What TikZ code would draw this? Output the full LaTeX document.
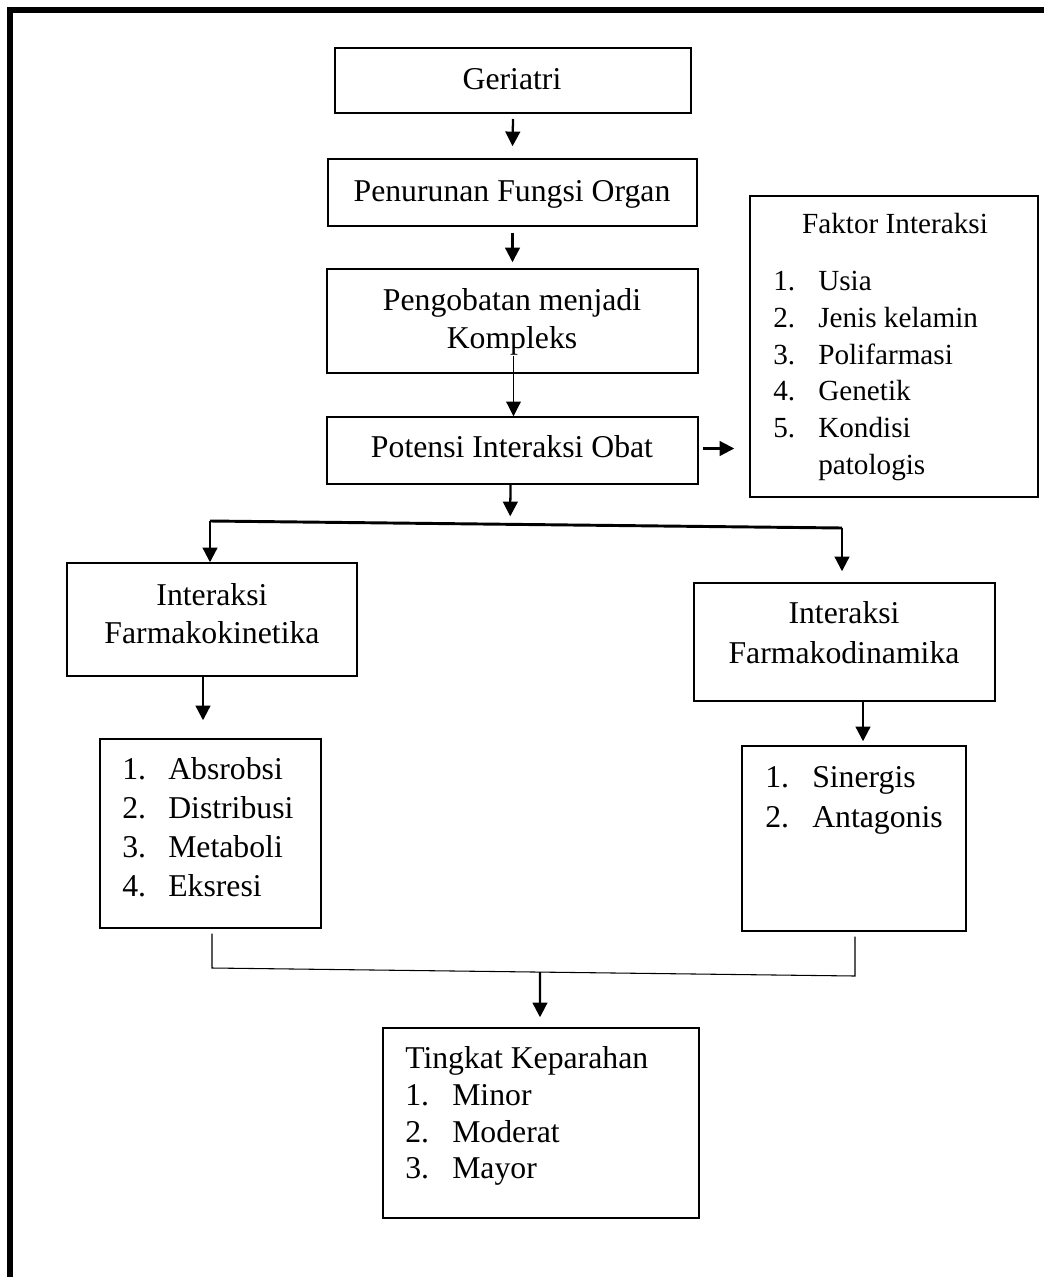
\documentclass[tikz,border=0pt]{standalone}
\usepackage{fontspec}
\setmainfont{Liberation Serif}
\usetikzlibrary{arrows.meta,fit,calc}
\begin{document}
\begin{tikzpicture}[x=0.75pt,y=-0.75pt,
  box/.style={draw,line width=1.1pt,inner sep=0pt},
  txt/.style={inner sep=0pt,font=\fontsize{23.8pt}{28pt}\selectfont},
  stxt/.style={inner sep=0pt,font=\fontsize{21.9pt}{26pt}\selectfont},
  arr/.style={line width=1.7pt,-{Triangle[width=11pt,length=11pt]}},
  thinarr/.style={line width=0.8pt,-{Triangle[width=11pt,length=11pt]}},
  conn/.style={line width=0.8pt}]
\useasboundingbox (0,0) rectangle (1043,1277);
% outer frame
\draw[line width=4.5pt] (10,1285) -- (10,10) -- (1050,10);
% boxes
\node[box,line width=1.5pt,fit={(335,48)(691,113)}] (geri) {};
\node[box,fit={(328,159)(697,226)}] (penu) {};
\node[box,fit={(327,269)(698,373)}] (peng) {};
\node[box,fit={(327,417)(698,484)}] (pote) {};
\node[box,fit={(750,196)(1038,497)}] (fakt) {};
\node[box,fit={(67,563)(357,676)}] (kine) {};
\node[box,fit={(694,583)(995,701)}] (dina) {};
\node[box,fit={(100,739)(321,928)}] (absr) {};
\node[box,fit={(742,746)(966,931)}] (sine) {};
\node[box,fit={(383,1028)(699,1218)}] (ting) {};
% texts
\node[txt,anchor=base] (tgeri) at (512,90) {Geriatri};
\node[txt,anchor=base] (tpenu) at (512,201) {Penurunan Fungsi Organ};
\node[txt,anchor=base] (tpeng1) at (512,310) {Pengobatan menjadi};
\node[txt,anchor=base] (tpeng2) at (512,348) {Kompleks};
\node[txt,anchor=base] (tpote) at (512,457) {Potensi Interaksi Obat};
\node[stxt,anchor=base] (tfakt) at (895,233) {Faktor Interaksi};
\foreach \n/\t/\y in {1/Usia/290,2/Jenis kelamin/327,3/Polifarmasi/364,4/Genetik/400,5/Kondisi/437}{
  \node[stxt,anchor=base west] (fn\n) at (773,\y) {\n.};
  \node[stxt,anchor=base west] (ft\n) at (818,\y) {\t};
}
\node[stxt,anchor=base west] (ft6) at (818,474) {patologis};
\node[txt,anchor=base] (tkine1) at (212,605) {Interaksi};
\node[txt,anchor=base] (tkine2) at (212,643) {Farmakokinetika};
\node[txt,anchor=base] (tdina1) at (844,623) {Interaksi};
\node[txt,anchor=base] (tdina2) at (844,663) {Farmakodinamika};
\foreach \n/\t/\y in {1/Absrobsi/779,2/Distribusi/818,3/Metaboli/857,4/Eksresi/896}{
  \node[txt,anchor=base west] (an\n) at (122,\y) {\n.};
  \node[txt,anchor=base west] (at\n) at (168,\y) {\t};
}
\foreach \n/\t/\y in {1/Sinergis/787,2/Antagonis/827}{
  \node[txt,anchor=base west] (sn\n) at (765,\y) {\n.};
  \node[txt,anchor=base west] (st\n) at (812,\y) {\t};
}
\node[txt,anchor=base west] (tting) at (405,1068) {Tingkat Keparahan};
\foreach \n/\t/\y in {1/Minor/1105,2/Moderat/1142,3/Mayor/1178}{
  \node[txt,anchor=base west] (kn\n) at (405,\y) {\n.};
  \node[txt,anchor=base west] (kt\n) at (452,\y) {\t};
}
% connectors
\draw[arr] ($(geri.south)+(0,5)$) -- ($(penu.north)+(0,-12)$);
\draw[arr] ($(penu.south)+(0,6)$) -- ($(peng.north)+(0,-6)$);
\draw[thinarr] ($(peng.south)+(1,-18)$) -- ($(pote.north)+(1,0)$);
\draw[arr] ($(pote.east)+(4,-2)$) -- ($(pote.east -| fakt.west)+(-15,-2)$);
\coordinate (bl) at (210,521);
\coordinate (br) at (842,528);
\coordinate (bm) at ($(bl)!0.475!(br)$);
\draw[arr] ($(pote.south)+(-2,0)$) -- ($(bm)+(0,-8)$);
\draw[line width=2.2pt] (bl) -- (br);
\draw[arr] (bl) -- (kine.north -| bl);
\draw[arr] (br) -- ($(dina.north -| br)+(0,-11)$);
\draw[arr] ($(kine.south)+(-9,0)$) -- ($(absr.north)+(-7.5,-18)$);
\draw[arr] ($(dina.south)+(18.5,0)$) -- ($(sine.north)+(9,-4)$);
\coordinate (jl) at (212,968);
\coordinate (jr) at (855,976);
\draw[conn] ($(absr.south)+(1.5,5)$) -- (jl) -- (jr) -- ($(sine.south)+(1,5)$);
\draw[arr] ($(jl)!0.51!(jr)$) -- ($(ting.north)+(-1,-10)$);
\end{tikzpicture}
\end{document}
